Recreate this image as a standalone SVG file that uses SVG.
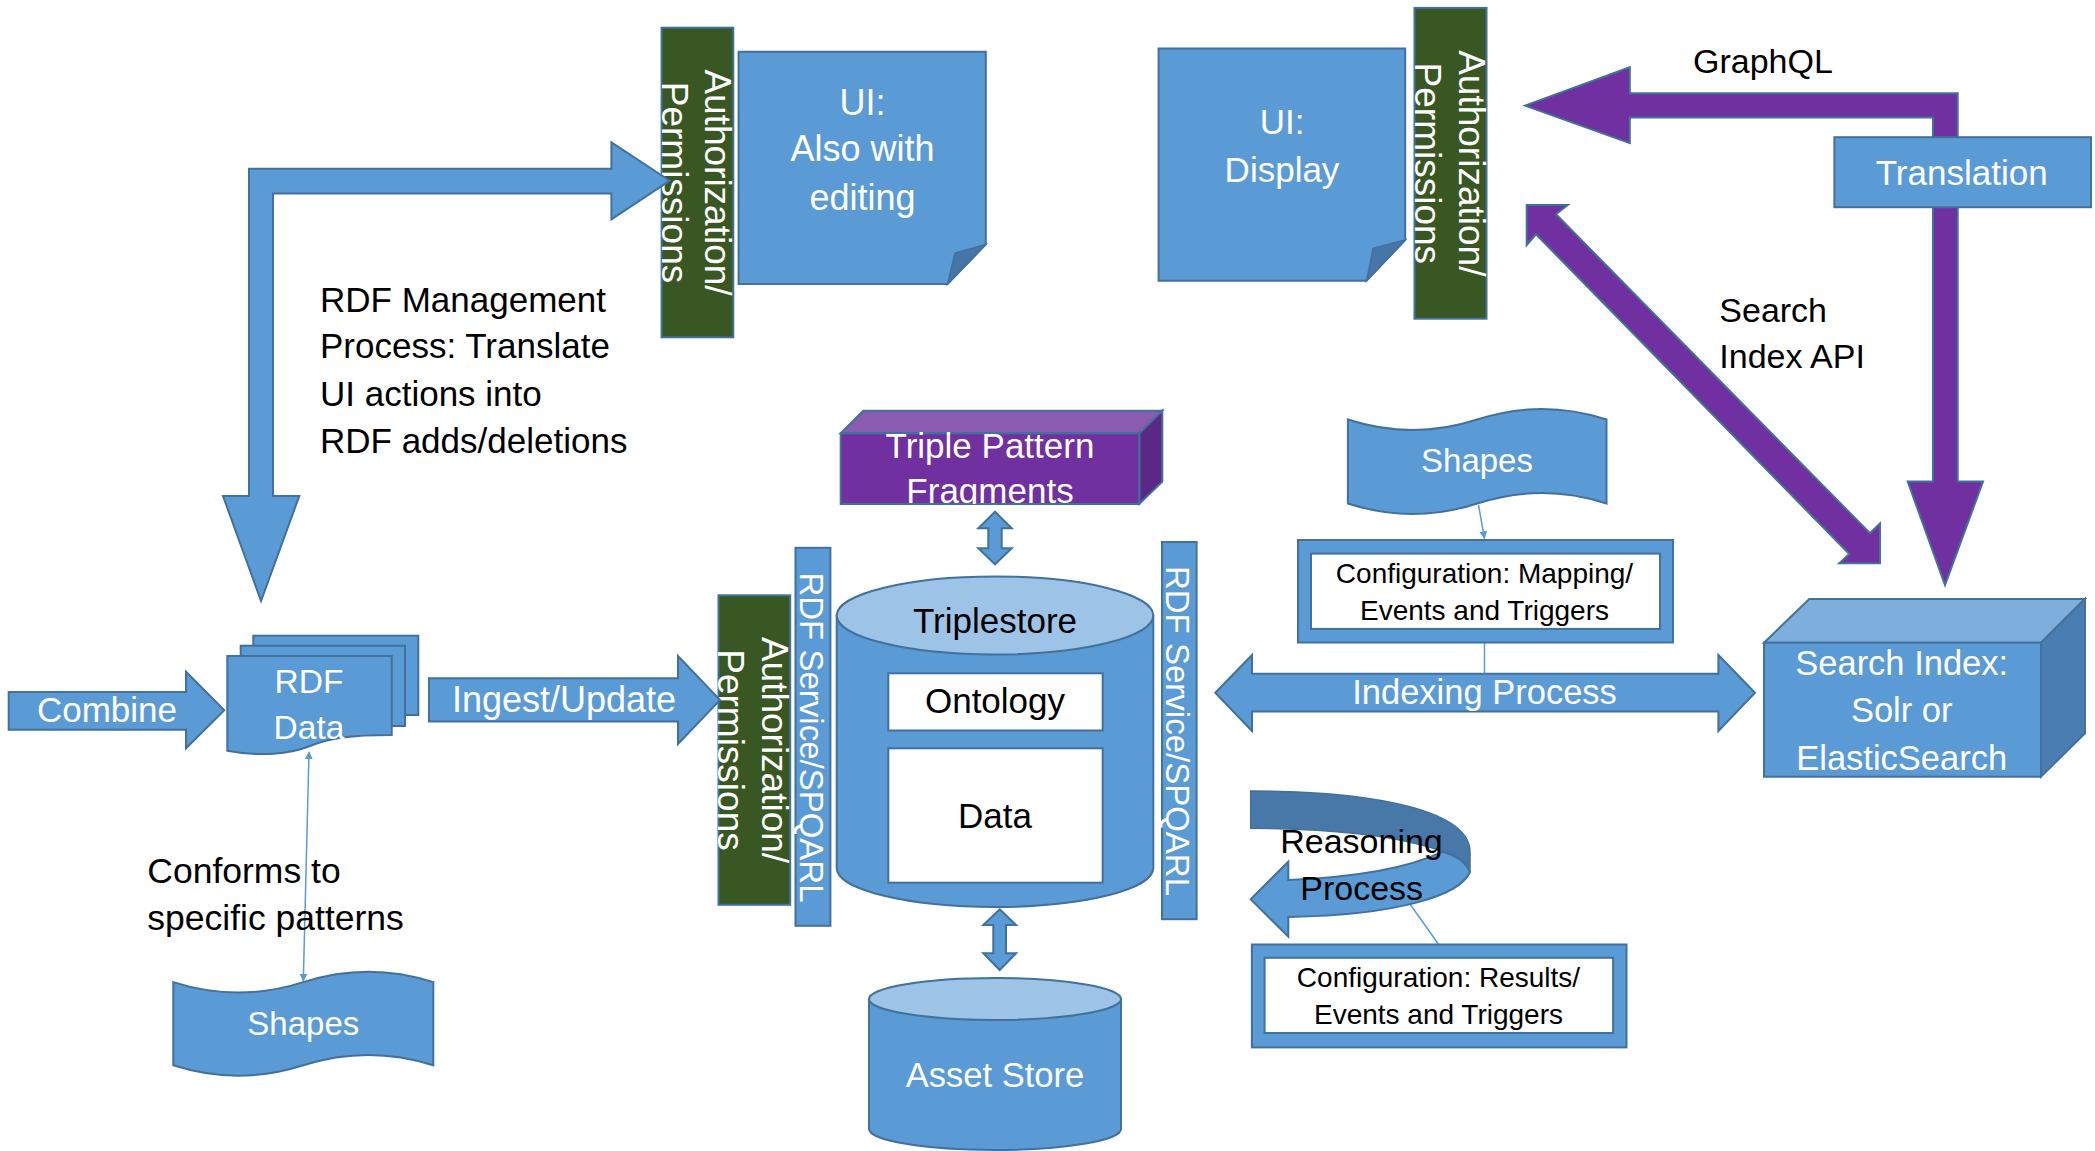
<svg xmlns="http://www.w3.org/2000/svg" width="2095" height="1151" viewBox="0 0 2095 1151">
<style>
text{font-family:"Liberation Sans",Arial,sans-serif}
.w{fill:#fff}
.k{fill:#000}
.blue{fill:#5B9BD5;stroke:#41719C;stroke-width:2}
.lt{fill:#9DC3E6;stroke:#41719C;stroke-width:2}
.dk{fill:#4676A8;stroke:#41719C;stroke-width:1.5}
.grn{fill:#385723;stroke:#41719C;stroke-width:2}
.pur{fill:#7030A0;stroke:#41719C;stroke-width:2}
.wbox{fill:#fff;stroke:#41719C;stroke-width:2}
.thin{stroke:#5B9BD5;stroke-width:1.5;fill:none}
.m{text-anchor:middle}
</style>
<defs>
<marker id="ah" viewBox="0 0 10 10" refX="9" refY="5" markerWidth="8" markerHeight="8" markerUnits="userSpaceOnUse" orient="auto-start-reverse">
<path d="M0,0 L10,5 L0,10 Z" fill="#5B9BD5"/>
</marker>
<clipPath id="tpfClip"><rect x="840.7" y="410" width="322" height="94"/></clipPath>
</defs>

<g id="auth-edit">
<rect class="grn" x="661.6" y="27.7" width="71.7" height="309.6"/>
<text class="w m" font-size="37" transform="translate(705,182.5) rotate(90)"><tspan x="0" y="0">Authorization/</tspan><tspan x="0" y="43">Permissions</tspan></text>
</g>
<g id="auth-display">
<rect class="grn" x="1414.5" y="7.9" width="72" height="310.8"/>
<text class="w m" font-size="37" transform="translate(1459,163.3) rotate(90)"><tspan x="0" y="0">Authorization/</tspan><tspan x="0" y="44">Permissions</tspan></text>
</g>
<g id="auth-ingest">
<rect class="grn" x="718.5" y="595.3" width="71.7" height="309.5"/>
<text class="w m" font-size="37" transform="translate(762,750) rotate(90)"><tspan x="0" y="0">Authorization/</tspan><tspan x="0" y="44">Permissions</tspan></text>
</g>

<g id="connectors">
<path class="blue" d="M261,601 L223,496 L249,496 L249,168.8 L611.4,168.8 L611.4,142.3 L669.7,180.7 L611.4,219.4 L611.4,193.4 L273,193.4 L273,496 L299.3,496 Z"/>
<path class="blue" d="M8.7,692 L186,692 L186,671.7 L224.3,710.3 L186,748.3 L186,729.8 L8.7,729.8 Z"/>
<text class="w m" font-size="35" x="107" y="722">Combine</text>
<path class="blue" d="M429,678.3 L678,678.3 L678,656 L720,700 L678,744 L678,721.5 L429,721.5 Z"/>
<text class="w m" font-size="36" x="564" y="711.5">Ingest/Update</text>
<path class="blue" d="M995,511.7 L1011.7,528.3 L1001.7,528.3 L1001.7,548.3 L1011.7,548.3 L995,564.3 L978.3,548.3 L988.3,548.3 L988.3,528.3 L978.3,528.3 Z"/>
<path class="blue" d="M999.7,909.3 L1016,925 L1006,925 L1006,953.3 L1016,953.3 L999.7,970 L983.3,953.3 L993.3,953.3 L993.3,925 L983.3,925 Z"/>
<path class="blue" d="M1215.3,692.8 L1252,655 L1252,673.7 L1718.4,673.7 L1718.4,655 L1755,692.8 L1718.4,731 L1718.4,711.5 L1252,711.5 L1252,731 Z"/>
<text class="w m" font-size="34.5" x="1484.5" y="703.7">Indexing Process</text>
<path class="pur" d="M1525,105.6 L1629.8,67.2 L1629.8,93.3 L1957.7,93.3 L1957.7,481.6 L1983,481.6 L1945,585 L1907.7,481.6 L1933,481.6 L1933,117.4 L1629.8,117.4 L1629.8,143.1 Z"/>
<path class="pur" d="M1526.7,205 L1567.7,205 L1556,214.3 L1870,533.3 L1880,523.3 L1880,563.3 L1839.3,563.3 L1849.3,554 L1536,234.3 L1526.7,245 Z"/>
<line class="thin" x1="309" y1="752" x2="303.3" y2="981" marker-start="url(#ah)" marker-end="url(#ah)"/>
<line class="thin" x1="1478.5" y1="505" x2="1484.5" y2="538.5" marker-end="url(#ah)"/>
<line class="thin" x1="1484.5" y1="642.5" x2="1484.5" y2="673.7"/>
<line class="thin" x1="1410" y1="904" x2="1438.3" y2="944"/>
<path fill="#4878A8" stroke="#41719C" stroke-width="1.5" d="M1250.7,791 C1380,791 1470,812 1470,852 L1470,872 C1466,862 1457,856 1443,851.7 C1400,836 1330,828.3 1250.7,828.3 Z"/>
<path class="blue" stroke-width="1.5" d="M1443,851.7 C1400,872 1340,878 1288.3,880 L1288.3,861.7 L1250.7,899.3 L1288.3,936.7 L1288.3,917 C1400,915 1460,895 1470,872 C1466,862 1457,856 1443,851.7 Z"/>
<text class="k m" font-size="34" x="1361.5" y="852.7">Reasoning</text>
<text class="k m" font-size="34" x="1361.7" y="900">Process</text>
</g>

<g id="ui-edit">
<path class="blue" d="M738.6,51.8 H985.8 V244.4 L947.6,283.9 H738.6 Z"/>
<path class="dk" d="M985.8,244.4 L947.6,283.9 L955,253 Z"/>
<text class="w m" font-size="36"><tspan x="862.5" y="114.7">UI:</tspan><tspan x="862.5" y="161">Also with</tspan><tspan x="862.5" y="209.6">editing</tspan></text>
</g>

<g id="ui-display">
<path class="blue" d="M1158.6,48.6 H1405.2 V240 L1366.6,280.7 H1158.6 Z"/>
<path class="dk" d="M1405.2,240 L1366.6,280.7 L1373.2,248.3 Z"/>
<text class="w m" font-size="35"><tspan x="1282" y="134.4">UI:</tspan><tspan x="1282" y="181.9">Display</tspan></text>
</g>

<g id="graphql-label"><text class="k" font-size="34" x="1693" y="73">GraphQL</text></g>

<g id="translation">
<rect class="blue" x="1834.4" y="137.2" width="256.6" height="70"/>
<text class="w m" font-size="35" x="1961.7" y="185">Translation</text>
</g>

<g id="search-api-label"><text class="k" font-size="34"><tspan x="1719.3" y="321.7">Search</tspan><tspan x="1719.3" y="368.3">Index API</tspan></text></g>

<g id="rdf-mgmt-label"><text class="k" font-size="35"><tspan x="320" y="312">RDF Management</tspan><tspan x="320" y="358">Process: Translate</tspan><tspan x="320" y="406">UI actions into</tspan><tspan x="320" y="453">RDF adds/deletions</tspan></text></g>

<g id="triple-pattern">
<path fill="#8B5BB1" stroke="#41719C" stroke-width="2" d="M840.7,433.3 L863.3,410.7 L1162.3,410.7 L1139.3,433.3 Z"/>
<path fill="#5C2885" stroke="#41719C" stroke-width="2" d="M1139.3,433.3 L1162.3,410.7 L1162.3,481.7 L1139.3,504 Z"/>
<rect class="pur" x="840.7" y="433.3" width="298.6" height="70.7"/>
<g clip-path="url(#tpfClip)"><text class="w m" font-size="35"><tspan x="990" y="458">Triple Pattern</tspan><tspan x="990" y="503">Fragments</tspan></text></g>
</g>

<g id="shapes-right">
<path class="blue" d="M1347.9,419.5 Q1412.6,440.5 1477.2,419.5 Q1541.9,398.5 1606.5,419.5 L1606.5,503.5 Q1541.9,482.5 1477.2,503.5 Q1412.6,524.5 1347.9,503.5 Z"/>
<text class="w m" font-size="33" x="1477" y="472">Shapes</text>
</g>

<g id="config-mapping">
<rect class="blue" x="1298" y="540" width="375" height="102.5"/>
<rect class="wbox" x="1311" y="553.6" width="349" height="75.3"/>
<text class="k m" font-size="28"><tspan x="1484.5" y="583">Configuration: Mapping/</tspan><tspan x="1484.5" y="620">Events and Triggers</tspan></text>
</g>

<g id="search-index">
<path fill="#7DAEDC" stroke="#41719C" stroke-width="2" d="M1764,642.7 L1809.3,599 L2085,599 L2041,642.7 Z"/>
<path fill="#4A7EB1" stroke="#41719C" stroke-width="2" d="M2041,642.7 L2085,599 L2085,733.3 L2041,776.7 Z"/>
<rect class="blue" x="1764" y="642.7" width="277" height="134"/>
<text class="w m" font-size="34.5"><tspan x="1901.7" y="675">Search Index:</tspan><tspan x="1901.7" y="721.7">Solr or</tspan><tspan x="1901.7" y="770">ElasticSearch</tspan></text>
</g>

<g id="rdf-data">
<rect class="blue" x="253.3" y="635.7" width="165" height="79.3"/>
<rect class="blue" x="240.7" y="645.7" width="164.3" height="80.3"/>
<path class="blue" d="M227.3,656 L391.7,656 L391.7,735 C350,735 330,738 310,746 C290,754 260,757 227.3,750.7 Z"/>
<text class="w m" font-size="33.5"><tspan x="309" y="692.7">RDF</tspan><tspan x="309" y="739.3">Data</tspan></text>
</g>

<g id="conforms-label"><text class="k" font-size="35.5"><tspan x="147.3" y="883">Conforms to</tspan><tspan x="147.3" y="929.7">specific patterns</tspan></text></g>

<g id="shapes-left">
<path class="blue" d="M173.3,982.1 Q238.3,1002.9 303.3,982.1 Q368.3,961.3 433.3,982.1 L433.3,1065.3 Q368.3,1044.5 303.3,1065.3 Q238.3,1086.1 173.3,1065.3 Z"/>
<text class="w m" font-size="33" x="303.3" y="1035">Shapes</text>
</g>

<g id="rdf-service-left">
<rect class="blue" x="795.5" y="547.8" width="34.9" height="378"/>
<text class="w m" font-size="33" transform="translate(799.5,737.5) rotate(90)" x="0" y="0">RDF Service/SPQARL</text>
</g>

<g id="triplestore">
<path class="blue" d="M836.7,615.5 V868 A158.3,39 0 0 0 1153.3,868 V615.5 Z"/>
<ellipse class="lt" cx="995" cy="615.5" rx="158.3" ry="39"/>
<text class="k m" font-size="35" x="995" y="633.3">Triplestore</text>
<rect class="wbox" x="888.3" y="673.3" width="214.4" height="57.2"/>
<text class="k m" font-size="35" x="995" y="713.3">Ontology</text>
<rect class="wbox" x="888.3" y="748.3" width="214.4" height="134.4"/>
<text class="k m" font-size="35" x="995" y="828.3">Data</text>
</g>

<g id="rdf-service-right">
<rect class="blue" x="1162" y="542" width="34.6" height="377.2"/>
<text class="w m" font-size="33" transform="translate(1166,731) rotate(90)" x="0" y="0">RDF Service/SPQARL</text>
</g>

<g id="asset-store">
<path class="blue" d="M869,999 V1129 A126,21 0 0 0 1121,1129 V999 Z"/>
<ellipse class="lt" cx="995" cy="999" rx="126" ry="21"/>
<text class="w m" font-size="34.5" x="995" y="1086.7">Asset Store</text>
</g>

<g id="config-results">
<rect class="blue" x="1251.9" y="944.5" width="374.6" height="102.9"/>
<rect class="wbox" x="1264.6" y="957.8" width="348.5" height="75.2"/>
<text class="k m" font-size="28"><tspan x="1438.5" y="987.4">Configuration: Results/</tspan><tspan x="1438.5" y="1024.4">Events and Triggers</tspan></text>
</g>
</svg>
